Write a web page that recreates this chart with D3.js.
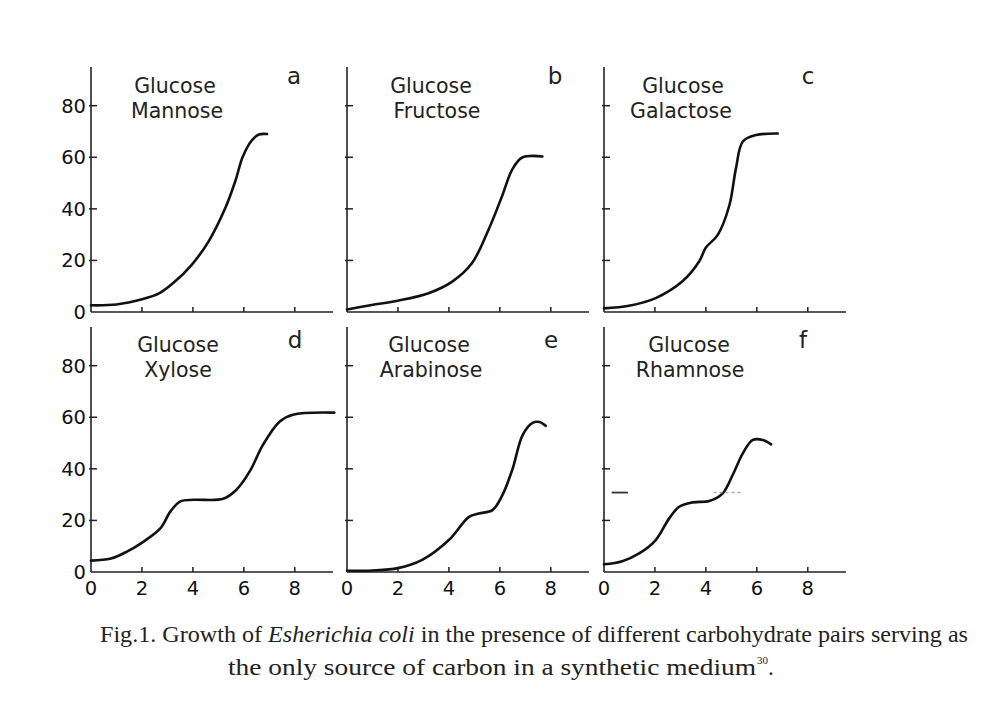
<!DOCTYPE html>
<html>
<head>
<meta charset="utf-8">
<script src="https://cdn.jsdelivr.net/npm/d3@7"></script>
<style>
  html, body { margin: 0; padding: 0; background: #fff; }
  svg { display: block; }
</style>
</head>
<body>
<svg id="chart" width="1000" height="705"></svg>
<script>
// ---- data ----
const panelLetters = ["a", "b", "c", "d", "e", "f"];
const sugarNames = ["Mannose", "Fructose", "Galactose", "Xylose", "Arabinose", "Rhamnose"];
const firstSugar = "Glucose";
const yTickValues = [0, 20, 40, 60, 80];
const xTickValues = [0, 2, 4, 6, 8];

const seriesA = [[0,2.6],[1.0,2.9],[2.0,4.9],[2.67,7.2],[3.25,11.4],[3.97,18.5],[4.63,27.6],[5.28,40.5],[5.67,50.9],[5.95,60.0],[6.3,66.4],[6.59,68.8],[6.91,69]];
const seriesB = [[0,1.0],[0.97,2.7],[2.0,4.4],[3.2,7.3],[4.13,11.8],[4.91,19],[5.56,32],[6.09,45],[6.49,55.3],[6.88,59.9],[7.67,60.3]];
const seriesC = [[0,1.4],[0.98,2.4],[2.03,5.4],[3.08,11.9],[3.74,19.7],[4.0,25.0],[4.46,29.8],[4.92,41.3],[5.18,55.7],[5.45,66.1],[5.97,68.6],[6.82,69.2]];
const seriesD = [[0,4.4],[0.78,5.2],[1.43,8],[2.08,11.9],[2.73,17],[3.12,23.5],[3.51,27.4],[4.03,28],[5.19,28.4],[5.71,31.9],[6.23,39],[6.75,49.3],[7.4,58.3],[7.92,61.0],[9.55,61.8]];
const seriesE = [[0,0.5],[0.98,0.6],[2.0,1.5],[2.95,4.7],[4.0,12.4],[4.79,21.4],[5.18,22.7],[5.71,24],[6.1,29.8],[6.5,40],[6.89,53],[7.28,57.8],[7.55,58.2],[7.8,56.7]];
const seriesF = [[0,3],[0.72,4.2],[1.38,7.2],[2.03,12.4],[2.56,20.8],[2.95,25.3],[3.48,27],[4.13,27.5],[4.66,30.5],[5.05,37.6],[5.45,46],[5.84,51.2],[6.23,51.2],[6.56,49.5]];
const seriesList = [seriesA, seriesB, seriesC, seriesD, seriesE, seriesF];

// stray marks in panel f
const strayDashF = [[0.3,30.8],[0.94,30.8]];
const strayFaintF = [[4.3,30.8],[5.4,30.8]];

const captionLine1a = "Fig.1. Growth of ";
const captionLine1b = "Esherichia coli";
const captionLine1c = " in the presence of different carbohydrate pairs serving as";
const captionLine2a = "the only source of carbon in a synthetic medium";
const captionLine2sup = "30";
const captionLine2b = ".";

// ---- layout ----
const svg = d3.select("#chart");
const colX = [91, 347, 604];
const rowY = [312, 572];
const plotW = 242;   // for 9.5 units
const plotH = 245;   // for 95 units
const titleDx = [[84, 86], [84, 90], [79, 77], [87, 87], [82, 84], [85, 86]];
const letterDx = [203, 208, 204, 204, 204, 199];

panelLetters.forEach((letter, i) => {
  const col = i % 3, row = Math.floor(i / 3);
  const x0 = colX[col], y0 = rowY[row];
  const x = d3.scaleLinear().domain([0, 9.5]).range([x0, x0 + plotW]);
  const y = d3.scaleLinear().domain([0, 95]).range([y0, y0 - plotH]);
  const g = svg.append("g");

  // axes lines
  g.append("line").attr("x1", x0).attr("x2", x0 + plotW).attr("y1", y0).attr("y2", y0)
    .attr("stroke", "#222").attr("stroke-width", 1.6);
  g.append("line").attr("x1", x0).attr("x2", x0).attr("y1", y0).attr("y2", y0 - plotH)
    .attr("stroke", "#222").attr("stroke-width", 1.6);

  // y ticks
  yTickValues.filter(v => v > 0).forEach(v => {
    g.append("line").attr("x1", x0 - 2).attr("x2", x0 + 6)
      .attr("y1", y(v)).attr("y2", y(v)).attr("stroke", "#222").attr("stroke-width", 1.5);
  });
  // x ticks
  xTickValues.filter(v => v > 0).forEach(v => {
    g.append("line").attr("x1", x(v)).attr("x2", x(v))
      .attr("y1", y0).attr("y2", y0 - 5).attr("stroke", "#222").attr("stroke-width", 1.5);
  });

  // y labels (left column only)
  if (col === 0) {
    yTickValues.forEach(v => {
      g.append("text").attr("x", x0 - 5).attr("y", y(v) + 7)
        .attr("text-anchor", "end")
        .attr("font-family", "DejaVu Sans").attr("font-size", 19.5).attr("fill", "#111")
        .text(v);
    });
  }
  // x labels (bottom row only)
  if (row === 1) {
    xTickValues.forEach(v => {
      g.append("text").attr("x", x(v)).attr("y", y0 + 23)
        .attr("text-anchor", "middle")
        .attr("font-family", "DejaVu Sans").attr("font-size", 19.5).attr("fill", "#111")
        .text(v);
    });
  }

  // curve
  const line = d3.line().x(d => x(d[0])).y(d => y(d[1])).curve(d3.curveCatmullRom.alpha(0.5));
  g.append("path").datum(seriesList[i]).attr("d", line)
    .attr("fill", "none").attr("stroke", "#111").attr("stroke-width", 2.6)
    .attr("stroke-linecap", "round").attr("stroke-linejoin", "round");

  if (i === 5) {
    g.append("path").datum(strayDashF).attr("d", d3.line().x(d => x(d[0])).y(d => y(d[1])))
      .attr("stroke", "#333").attr("stroke-width", 1.8);
    g.append("path").datum(strayFaintF).attr("d", d3.line().x(d => x(d[0])).y(d => y(d[1])))
      .attr("stroke", "#aaa").attr("stroke-width", 1.5).attr("stroke-dasharray", "3,3");
  }

  // titles
  const tY = row === 0 ? 93 : 352;
  g.append("text").attr("x", x0 + titleDx[i][0]).attr("y", tY)
    .attr("text-anchor", "middle").attr("font-family", "DejaVu Sans")
    .attr("font-size", 20.5).attr("fill", "#222").text(firstSugar);
  g.append("text").attr("x", x0 + titleDx[i][1]).attr("y", tY + 25)
    .attr("text-anchor", "middle").attr("font-family", "DejaVu Sans")
    .attr("font-size", 20.5).attr("fill", "#222").text(sugarNames[i]);
  g.append("text").attr("x", x0 + letterDx[i]).attr("y", row === 0 ? 84 : 348)
    .attr("text-anchor", "middle").attr("font-family", "DejaVu Sans")
    .attr("font-size", 23).attr("fill", "#222").text(letter);
});

// caption
const cap1 = svg.append("text").attr("x", 100).attr("y", 642)
  .attr("font-family", "Liberation Serif").attr("font-size", 23.5).attr("fill", "#222")
  .attr("textLength", 868).attr("lengthAdjust", "spacingAndGlyphs");
cap1.append("tspan").text(captionLine1a);
cap1.append("tspan").attr("font-style", "italic").text(captionLine1b);
cap1.append("tspan").text(captionLine1c);

const cap2 = svg.append("text").attr("y", 675)
  .attr("font-family", "Liberation Serif").attr("font-size", 23.5).attr("fill", "#222");
cap2.append("tspan").attr("x", 228).attr("textLength", 528).attr("lengthAdjust", "spacingAndGlyphs")
  .text(captionLine2a);
cap2.append("tspan").attr("x", 757).attr("font-size", 11).attr("dy", -11).text(captionLine2sup);
cap2.append("tspan").attr("x", 768).attr("dy", 11).text(captionLine2b);
</script>
</body>
</html>
